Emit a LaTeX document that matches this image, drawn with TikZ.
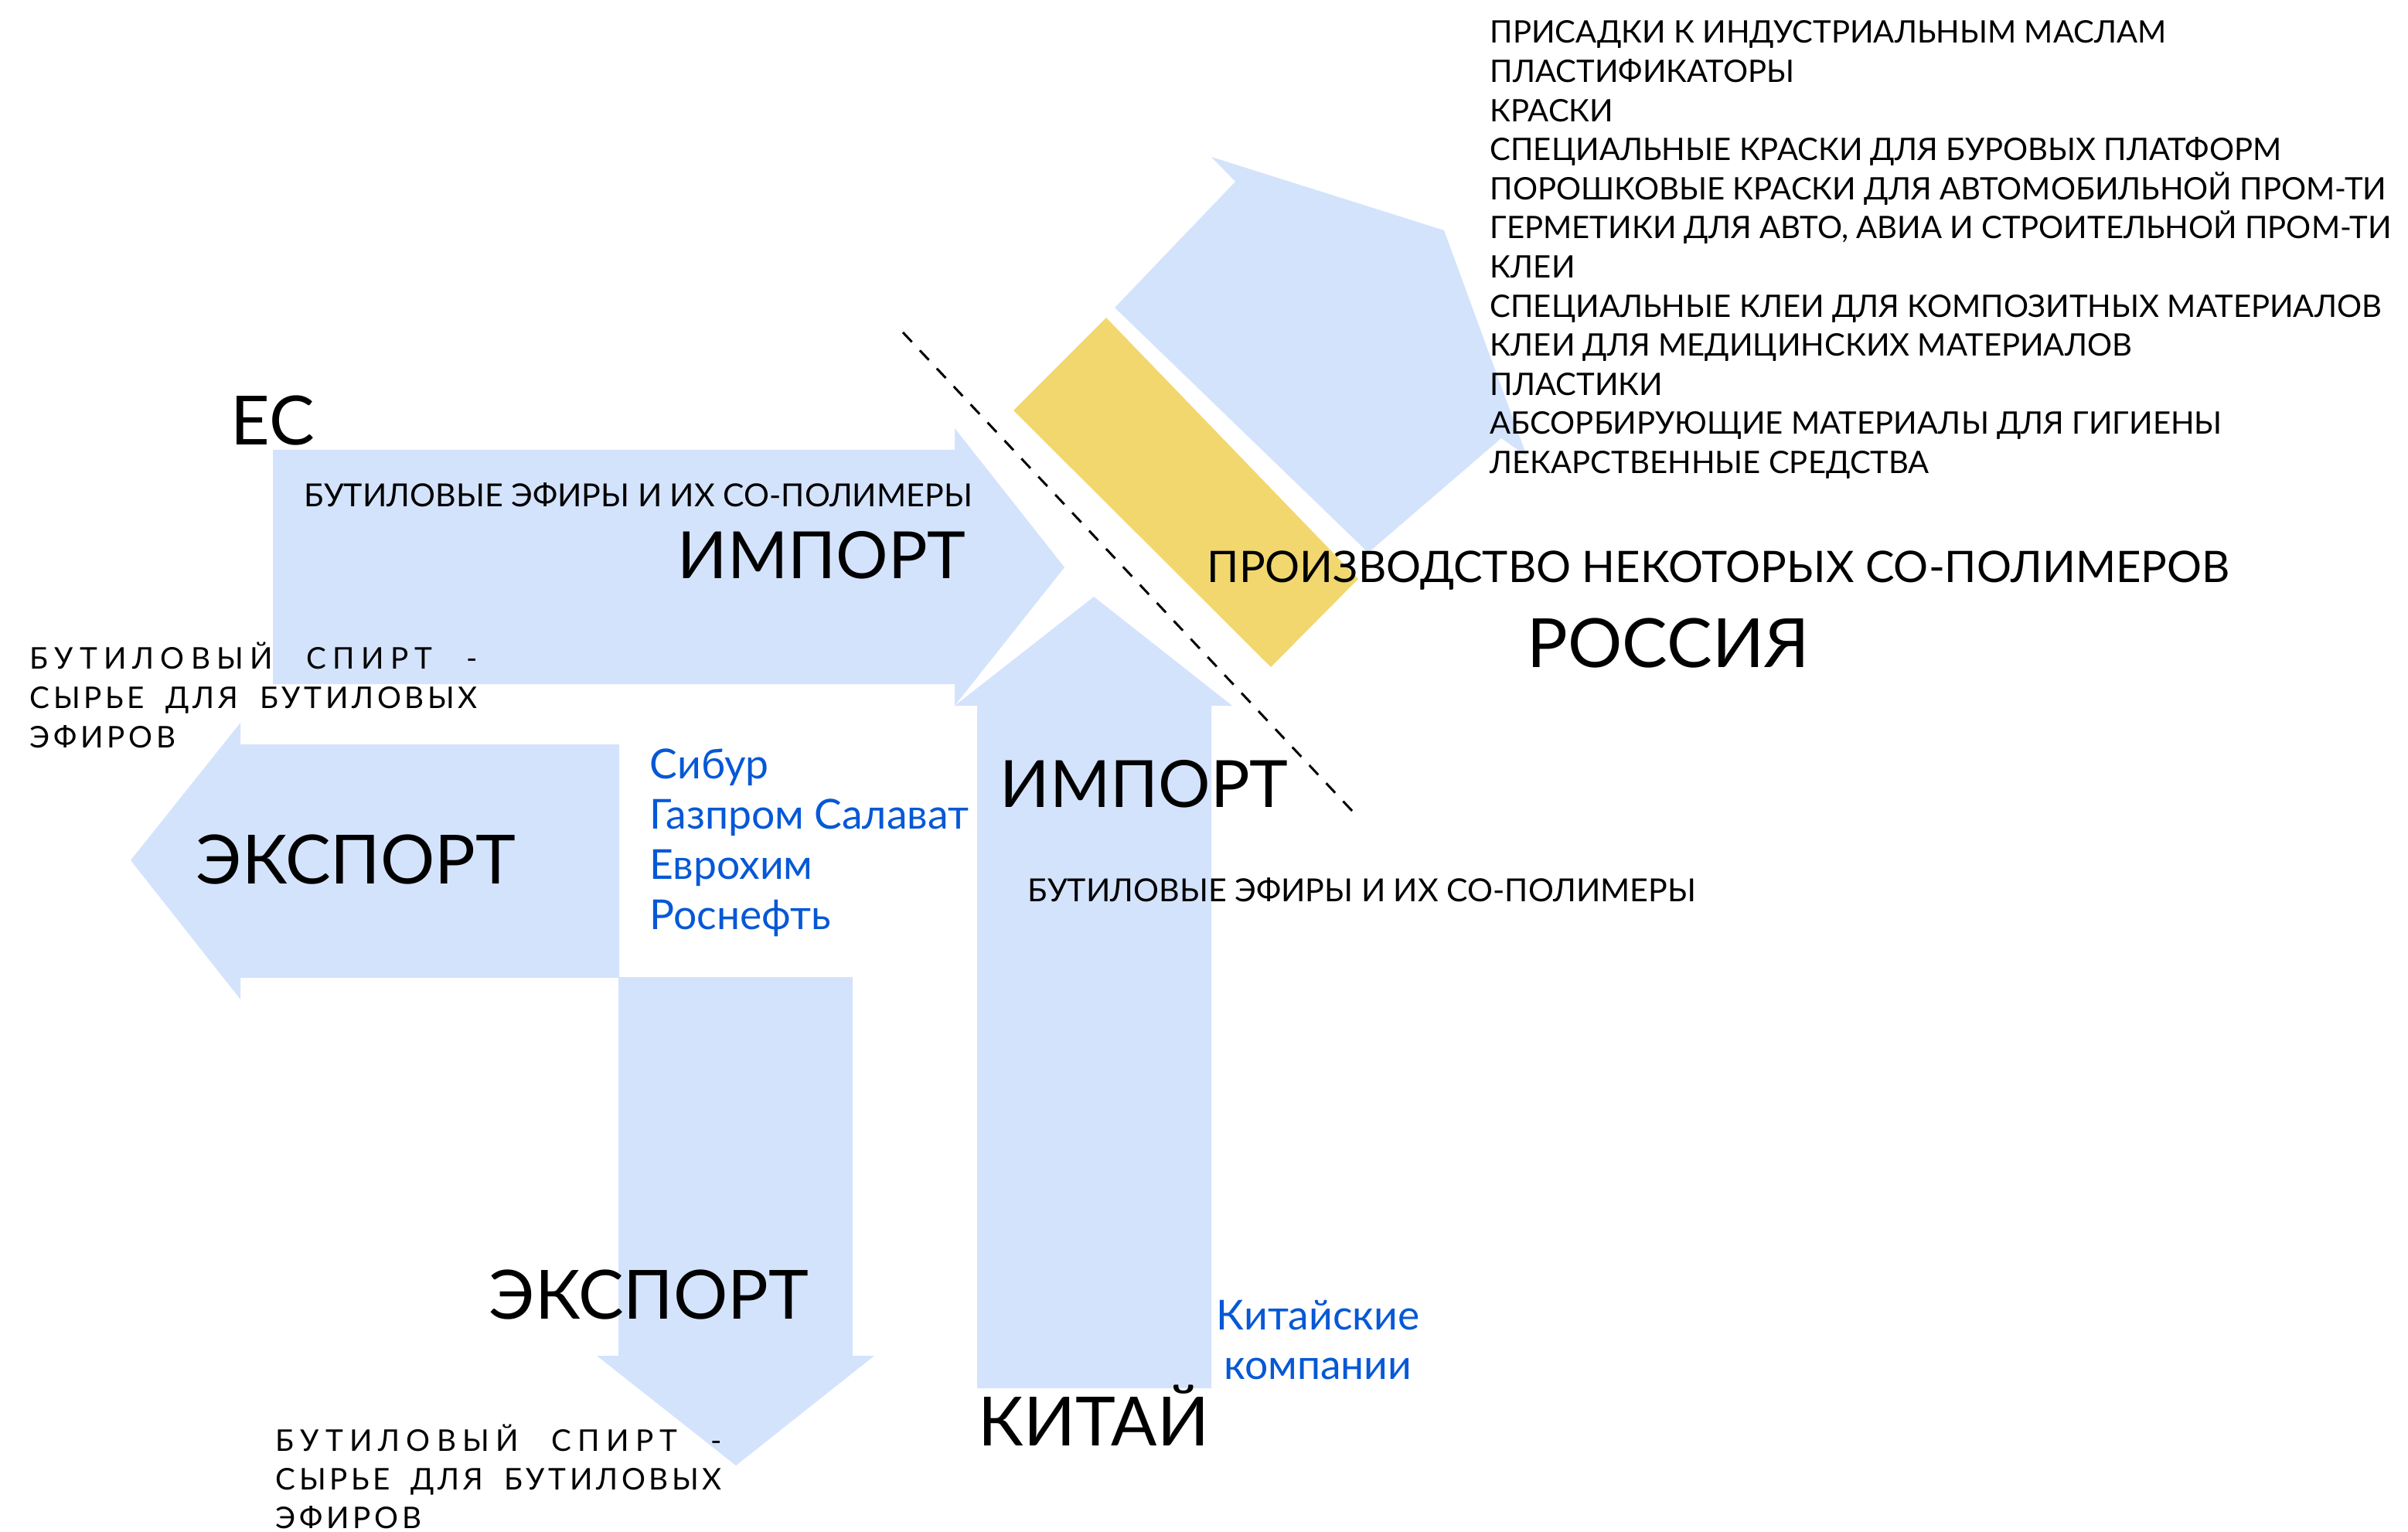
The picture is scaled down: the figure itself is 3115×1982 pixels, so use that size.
\documentclass[tikz,border=0pt]{standalone}
\usepackage{fontspec}
\setmainfont{Lato}
\newfontfamily\spacedfont[LetterSpace=12]{Lato}
\newfontfamily\widefont[LetterSpace=21]{Lato}
\definecolor{flowblue}{RGB}{212,227,252}
\definecolor{makeryellow}{RGB}{242,215,110}
\definecolor{firmblue}{RGB}{6,88,214}
\tikzset{
  flow/.style={fill=flowblue},
  label/.style={inner sep=0pt, anchor=base west},
  bigtext/.style={label, font=\fontsize{25}{30}\selectfont},
  imptext/.style={label, font=\fontsize{24}{29}\selectfont},
  smalltext/.style={label, font=\fontsize{11.7}{14}\selectfont},
  listtext/.style={label, font=\fontsize{11.4}{14}\selectfont},
  midtext/.style={label, font=\fontsize{16}{19}\selectfont},
  firmtext/.style={label, text=firmblue, font=\fontsize{15.2}{18}\selectfont},
  spacedtext/.style={label, font=\spacedfont\fontsize{11}{13}\selectfont},
  widetext/.style={label, font=\widefont\fontsize{11}{13}\selectfont}
}
\begin{document}
\begin{tikzpicture}[x=0.1mm, y=-0.1mm]
\useasboundingbox (0,0) rectangle (3115,1982);
\fill[flow] (353,582) -- (1235,582) -- (1235,554) -- (1377,734)
  -- (1235,913) -- (1235,885) -- (353,885) -- cycle;
\fill[flow] (1264,1796) -- (1264,913) -- (1235,913) -- (1415,772)
  -- (1594,913) -- (1567,913) -- (1567,1796) -- cycle;
\fill[flow] (1442,398) -- (1598,235) -- (1567,203) -- (1868,298)
  -- (1975,590) -- (1942,567) -- (1770,715) -- cycle;
\fill[flow] (801,963) -- (311,963) -- (311,935) -- (169,1113)
  -- (311,1293) -- (311,1265) -- (801,1265) -- cycle;
\fill[flow] (800,1264) -- (1103,1264) -- (1103,1754) -- (1131,1754)
  -- (952,1896) -- (772,1754) -- (800,1754) -- cycle;
\fill[makeryellow] (1431,411) -- (1757,749) -- (1644,863) -- (1311,531) -- cycle;
\coordinate (cut1) at (1168,430);
\coordinate (cut2) at (1750,1050);
\draw[line width=0.85pt, dash pattern=on 1.7mm off 1.5mm] (cut1) -- (cut2);

\node[bigtext] (eu) at (298,576) {ЕС};
\node[smalltext] (euwhat) at (393,655) {БУТИЛОВЫЕ ЭФИРЫ И ИХ СО-ПОЛИМЕРЫ};
\node[imptext] (euimp) at (876,748) {ИМПОРТ};
\node[widetext] (euexp1) at (38,865) {\makebox[57.9mm][s]{БУТИЛОВЫЙ СПИРТ -}};
\node[spacedtext] (euexp2) at (38,916) {\makebox[57.9mm][s]{СЫРЬЕ ДЛЯ БУТИЛОВЫХ}};
\node[spacedtext] (euexp3) at (38,967) {ЭФИРОВ};
\node[bigtext] (euexp) at (253,1143) {ЭКСПОРТ};
\foreach \firm [count=\i] in {Сибур, Газпром Салават, Еврохим, Роснефть}
  \node[firmtext] (ru\i) at (840,{1007+65*(\i-1)}) {\firm};
\node[imptext] (cnimp) at (1293,1044) {ИМПОРТ};
\node[smalltext] (cnwhat) at (1329,1166) {БУТИЛОВЫЕ ЭФИРЫ И ИХ СО-ПОЛИМЕРЫ};
\node[midtext] (made) at (1561,753) {ПРОИЗВОДСТВО НЕКОТОРЫХ СО-ПОЛИМЕРОВ};
\node[bigtext] (ru) at (1975,863) {РОССИЯ};
\foreach \use [count=\i] in {ПРИСАДКИ К ИНДУСТРИАЛЬНЫМ МАСЛАМ, ПЛАСТИФИКАТОРЫ,
    КРАСКИ, СПЕЦИАЛЬНЫЕ КРАСКИ ДЛЯ БУРОВЫХ ПЛАТФОРМ,
    ПОРОШКОВЫЕ КРАСКИ ДЛЯ АВТОМОБИЛЬНОЙ ПРОМ-ТИ,
    {ГЕРМЕТИКИ ДЛЯ АВТО, АВИА И СТРОИТЕЛЬНОЙ ПРОМ-ТИ}, КЛЕИ,
    СПЕЦИАЛЬНЫЕ КЛЕИ ДЛЯ КОМПОЗИТНЫХ МАТЕРИАЛОВ,
    КЛЕИ ДЛЯ МЕДИЦИНСКИХ МАТЕРИАЛОВ, ПЛАСТИКИ,
    АБСОРБИРУЮЩИЕ МАТЕРИАЛЫ ДЛЯ ГИГИЕНЫ, ЛЕКАРСТВЕННЫЕ СРЕДСТВА}
  \node[listtext] (use\i) at (1927,{56+50.6*(\i-1)}) {\use};
\node[firmtext, anchor=base] (cn1) at (1705,1720) {Китайские};
\node[firmtext, anchor=base] (cn2) at (1705,1784) {компании};
\node[bigtext] (cn) at (1265,1870) {КИТАЙ};
\node[bigtext] (rowexp) at (632,1706) {ЭКСПОРТ};
\node[widetext] (rowexp1) at (356,1877) {\makebox[57.7mm][s]{БУТИЛОВЫЙ СПИРТ -}};
\node[spacedtext] (rowexp2) at (356,1927) {\makebox[57.7mm][s]{СЫРЬЕ ДЛЯ БУТИЛОВЫХ}};
\node[spacedtext] (rowexp3) at (356,1977) {ЭФИРОВ};
\end{tikzpicture}
\end{document}
